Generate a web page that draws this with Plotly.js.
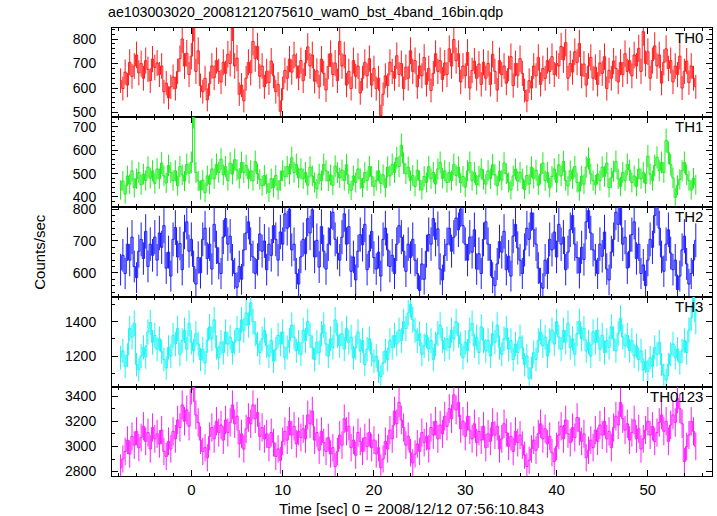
<!DOCTYPE html>
<html><head><meta charset="utf-8">
<script src="https://cdn.plot.ly/plotly-3.0.1.min.js"></script>
<style>html,body{margin:0;padding:0;background:#fff;}#chart{width:717px;height:516px;}</style>
</head><body><div id="chart"></div>
<script>
// ---- data (counts/sec per 0.25 s bin) ----
const binWidth = 0.25;
const firstBinCenter = -7.75;
const bandNames = ["TH0", "TH1", "TH2", "TH3", "TH0123"];
const xTitle = "Time [sec] 0 = 2008/12/12 07:56:10.843";
const yTitle = "Counts/sec";
const fileTitle = "ae103003020_20081212075610_wam0_bst_4band_16bin.qdp";

const th0 = [
 630,598,665,612,705,648,690,735,662,700,640,712,676,630,718,684,
 702,655,690,585,620,560,605,645,598,668,720,800,690,742,655,730,
 848,668,752,610,585,640,552,618,690,642,712,668,625,705,660,738,
 700,850,690,722,575,612,548,640,705,662,790,720,770,648,690,605,
 668,622,710,650,585,615,505,598,672,640,718,665,735,690,642,712,
 630,702,768,690,735,628,670,605,718,660,592,688,740,655,702,630,
 790,690,735,612,668,598,712,648,690,580,640,705,650,720,612,680,
 598,640,488,575,650,610,705,668,640,732,655,700,598,685,640,752,
 668,712,605,690,650,725,615,680,590,660,740,668,712,635,702,655,
 760,690,798,712,740,625,690,650,745,600,672,710,640,698,615,705,
 640,700,615,738,668,592,712,655,690,620,680,728,610,700,652,720,
 660,590,548,630,600,690,650,725,615,680,640,712,668,728,655,700,
 690,770,715,785,640,700,665,748,705,782,650,698,612,690,725,640,
 685,615,702,660,728,598,672,640,710,680,625,705,655,740,668,712,
 650,735,690,762,668,830,700,748,640,712,772,690,735,620,705,760,
 680,712,625,690,655,730,600,668,710,622,690,640,605
];
const th1 = [
 430,468,412,490,455,512,440,478,505,452,498,470,528,480,512,458,
 520,478,545,490,460,535,505,470,512,448,530,495,468,540,502,548,
 748,505,468,430,472,418,490,455,520,478,540,505,562,495,530,470,
 545,498,560,515,480,548,505,535,478,512,470,552,500,475,448,492,
 455,420,478,440,492,430,470,512,488,530,498,568,505,540,482,520,
 478,505,450,528,490,462,435,498,470,540,512,468,495,450,532,505,
 482,515,470,538,455,428,490,462,520,478,440,505,470,530,488,445,
 470,512,458,495,440,528,490,540,505,568,530,622,545,500,528,470,
 492,445,515,470,430,488,462,530,478,505,455,520,548,480,512,462,
 505,470,540,492,528,460,488,442,512,548,470,505,452,490,520,475,
 455,512,478,538,495,448,510,472,545,500,462,430,490,520,468,505,
 478,432,492,455,528,480,515,450,498,545,470,505,440,488,520,462,
 538,490,552,470,448,512,478,530,462,425,490,455,528,565,498,470,
 452,498,470,528,488,545,440,482,510,552,478,445,505,470,540,515,
 462,490,445,520,478,505,458,575,498,470,535,570,512,548,505,642,
 590,538,482,398,450,475,512,548,495,470,430,480,452
];
const th2 = [
 610,655,598,690,640,712,620,585,668,705,645,730,620,690,655,712,
 640,725,680,748,615,665,590,705,742,650,692,610,728,760,668,705,
 620,565,648,600,705,740,645,690,612,752,680,630,598,712,770,690,
 715,640,598,555,620,580,672,725,760,690,650,598,642,722,668,700,
 610,690,655,748,705,640,728,690,785,740,800,672,690,598,565,650,
 705,660,770,725,798,650,702,618,745,668,612,690,740,790,705,662,
 640,712,785,690,745,605,650,578,668,720,688,752,610,668,730,648,
 612,665,590,705,740,672,620,655,598,690,748,712,668,605,690,648,
 705,640,598,545,628,580,668,720,690,770,705,738,612,578,655,690,
 740,668,712,772,735,800,748,690,640,712,665,735,612,660,598,705,
 760,690,640,585,560,628,698,665,730,610,652,590,715,752,678,640,
 598,672,740,705,788,735,690,615,568,552,640,598,705,672,728,650,
 752,690,712,610,665,735,780,690,648,600,680,642,760,795,725,672,
 640,598,690,652,728,612,578,665,705,790,752,805,690,712,615,668,
 720,760,645,690,598,625,560,640,705,680,780,805,740,650,605,690,
 735,662,610,640,548,590,672,715,628,565,598,640,702
];
const th3 = [
 1190,1230,1140,1205,1360,1310,1390,1150,1120,1200,1250,1195,1340,1395,1280,1320,
 1240,1300,1225,1180,1130,1250,1200,1320,1270,1360,1210,1290,1350,1240,1390,1280,
 1230,1330,1270,1180,1240,1160,1290,1370,1300,1410,1250,1190,1280,1220,1340,1270,
 1310,1220,1280,1360,1290,1410,1350,1450,1380,1510,1400,1330,1270,1220,1300,1350,
 1260,1200,1290,1170,1240,1320,1270,1340,1190,1250,1290,1380,1310,1230,1280,1210,
 1350,1290,1400,1320,1250,1180,1280,1220,1330,1380,1270,1200,1300,1250,1410,1320,
 1260,1330,1240,1360,1280,1310,1190,1250,1340,1230,1290,1150,1240,1300,1210,1170,
 1200,1110,1080,1160,1230,1180,1290,1250,1320,1270,1350,1290,1400,1360,1450,1500,
 1410,1350,1290,1330,1210,1260,1320,1240,1290,1180,1270,1330,1380,1290,1240,1300,
 1250,1350,1300,1400,1320,1270,1190,1280,1230,1350,1390,1260,1310,1220,1370,1290,
 1230,1290,1200,1330,1280,1380,1250,1210,1300,1360,1240,1290,1180,1270,1220,1310,
 1250,1150,1200,1070,1130,1220,1180,1290,1340,1260,1310,1200,1290,1350,1270,1400,
 1310,1240,1350,1280,1390,1250,1300,1210,1330,1400,1300,1360,1230,1280,1200,1340,
 1280,1350,1240,1320,1220,1290,1250,1370,1300,1230,1330,1420,1310,1260,1320,1230,
 1290,1200,1260,1180,1230,1120,1170,1110,1190,1140,1250,1210,1280,1150,1090,1060,
 1150,1210,1270,1190,1240,1160,1230,1290,1220,1350,1420,1540,1400
];
const th0123 = [
 2830,2900,2960,3050,2940,3080,3010,3120,2990,3070,3160,3040,3110,2980,3150,3060,
 3100,3020,3130,2960,2920,3040,2980,3120,3060,3210,3150,3330,3200,3290,3160,3450,
 3470,3250,3190,3050,2960,2990,2910,3080,3150,3060,3200,3110,3170,3050,3210,3110,
 3190,3330,3180,3240,3020,3100,2980,3140,3230,3180,3330,3220,3270,3080,3150,3060,
 3100,2990,3110,3030,2920,2980,2890,3040,3120,3050,3200,3090,3160,3020,3120,3070,
 3140,3060,3250,3180,3280,3050,3110,2970,3120,3030,2960,3070,2940,2990,2840,2960,
 3090,3010,3220,3120,3160,2990,3050,2930,3110,3040,2960,3070,3000,3110,2990,3050,
 2940,2990,2830,2900,3040,2980,3130,3060,3280,3180,3350,3210,3150,3010,3080,2950,
 2870,2940,3020,2960,3110,3030,3080,2980,3150,3090,3200,3060,3170,3100,3240,3160,
 3300,3220,3410,3290,3350,3140,3200,3080,3240,3130,3060,3180,3030,3120,3050,3160,
 2990,3100,3040,3190,3090,3160,2980,3060,3180,3110,3000,3080,2960,3120,3030,3090,
 3010,2930,2840,2890,2980,3050,2970,3100,3180,3060,3140,3020,3080,2950,2880,3000,
 3090,3160,3060,3210,3100,3030,3150,3070,3230,3120,3040,3100,2910,2970,3050,2990,
 3130,3040,3170,3090,3200,3060,3120,2990,3150,3240,3170,3350,3220,3130,3180,3050,
 3110,3210,3060,3140,2980,3060,3130,3200,3090,3160,3040,3110,3190,3250,3120,3200,
 3040,3170,3250,3190,3380,3300,3180,2880,3000,3090,3200,3120,3000
];
const series = [th0, th1, th2, th3, th0123];
const yTickSteps = [100, 100, 100, 200, 200];
const yMinorSteps = [20, 20, 20, 100, 100];
const yRanges = [[484, 847], [359, 745], [526, 808], [1023, 1546], [2765, 3476]];
const xRange = [-8.69, 56.97];
const colors = ["#ff1a1a", "#1aee1a", "#1a1aff", "#1af5f5", "#ff1aff"];

// ---- layout geometry (pixels) ----
const W = 717, H = 516;
const left = 112, right = 711.5;
const panelEdges = [27.5, 116.5, 206.5, 296.5, 386.5, 476];
const fy = px => 1 - px / H;
const FONT = "Liberation Sans, Arial, Helvetica, sans-serif";

const times = th0.map((_, i) => firstBinCenter + i * binWidth);
const poissonErr = v => Math.sqrt(v * binWidth) / binWidth;

const traces = [];
const layout = {
  width: W, height: H,
  margin: {l: 0, r: 0, t: 0, b: 0, pad: 0},
  paper_bgcolor: "#fff", plot_bgcolor: "#fff",
  showlegend: false, hovermode: false,
  font: {family: FONT, size: 15, color: "#000"},
  annotations: []
};

series.forEach((vals, k) => {
  const sfx = k === 0 ? "" : String(k + 1);
  traces.push({
    type: "scatter", mode: "lines",
    x: times, y: vals,
    xaxis: "x" + sfx, yaxis: "y" + sfx,
    line: {shape: "hvh", width: 1, color: colors[k]},
    error_y: {type: "data", array: vals.map(poissonErr), width: 0, thickness: 1, color: colors[k]}
  });
  const top = panelEdges[k], bot = panelEdges[k + 1];
  layout["xaxis" + sfx] = {
    domain: [left / W, right / W], anchor: "y" + sfx,
    range: xRange, matches: k ? "x" : undefined,
    showline: true, mirror: "ticks", linecolor: "#000", linewidth: 1,
    ticks: "inside", ticklen: 6, tickwidth: 1, tickcolor: "#000",
    dtick: 10, tick0: 0,
    minor: {dtick: 2, tick0: 0, ticks: "inside", ticklen: 3, tickwidth: 1, tickcolor: "#000"},
    showgrid: false, zeroline: false,
    showticklabels: k === 4, ticklabelstandoff: 0,
    tickfont: {family: FONT, size: 15, color: "#000"},
    automargin: false, fixedrange: true
  };
  layout["yaxis" + sfx] = {
    domain: [fy(bot), fy(top)], anchor: "x" + sfx,
    range: yRanges[k],
    showline: true, mirror: "ticks", linecolor: "#000", linewidth: 1,
    ticks: "inside", ticklen: 6, tickwidth: 1, tickcolor: "#000",
    dtick: yTickSteps[k], tick0: 0,
    minor: {dtick: yMinorSteps[k], tick0: 0, ticks: "inside", ticklen: 3, tickwidth: 1, tickcolor: "#000"},
    showgrid: false, zeroline: false,
    ticklabelstandoff: 12,
    tickfont: {family: FONT, size: 14, color: "#000"},
    automargin: false, fixedrange: true
  };
  layout.annotations.push({
    xref: "paper", yref: "paper", x: 705 / W, y: fy(top + 10),
    xanchor: "right", yanchor: "middle", showarrow: false,
    text: bandNames[k], font: {family: FONT, size: 15, color: "#000"}
  });
});

layout.annotations.push({
  xref: "paper", yref: "paper", x: 106 / W, y: fy(12),
  xanchor: "left", yanchor: "middle", showarrow: false,
  text: fileTitle, font: {family: FONT, size: 14.2, color: "#000"}
});
layout.annotations.push({
  xref: "paper", yref: "paper", x: (left + right) / 2 / W, y: fy(508),
  xanchor: "center", yanchor: "middle", showarrow: false,
  text: xTitle, font: {family: FONT, size: 15, color: "#000"}
});
layout.annotations.push({
  xref: "paper", yref: "paper", x: 40 / W, y: fy((panelEdges[0] + panelEdges[5]) / 2),
  xanchor: "center", yanchor: "middle", showarrow: false, textangle: -90,
  text: yTitle, font: {family: FONT, size: 15, color: "#000"}
});

Plotly.newPlot("chart", traces, layout, {staticPlot: true, displayModeBar: false});
</script></body></html>
